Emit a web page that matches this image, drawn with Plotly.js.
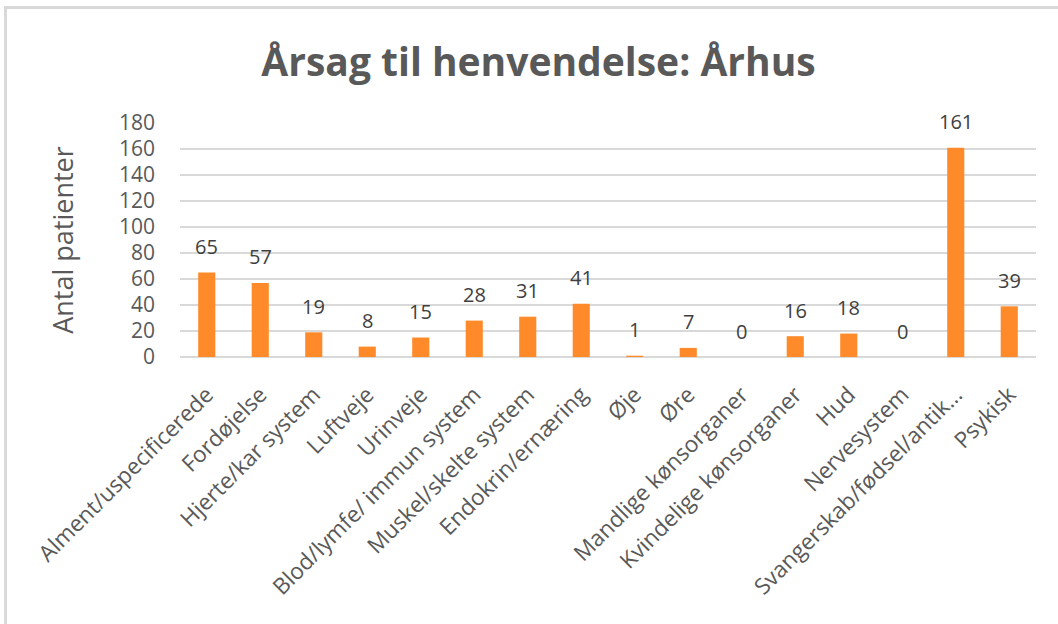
<!DOCTYPE html>
<html>
<head>
<meta charset="utf-8">
<script src="https://cdn.plot.ly/plotly-3.0.1.min.js"></script>
<style>
html,body{margin:0;padding:0;background:#fff;}
#wrap{position:relative;width:1058px;height:624px;overflow:hidden;}
#frame{position:absolute;left:4px;top:6px;width:1100px;height:700px;border-top:3px solid #d9d9d9;border-left:3px solid #d9d9d9;box-sizing:border-box;pointer-events:none;}
#chart{position:absolute;left:0;top:0;width:1058px;height:624px;}
</style>
</head>
<body>
<div id="wrap">
<div id="chart"></div>
<div id="frame"></div>
</div>
<script>
const categories = ["Alment/uspecificerede","Fordøjelse","Hjerte/kar system","Luftveje","Urinveje","Blod/lymfe/ immun system","Muskel/skelte system","Endokrin/ernæring","Øje","Øre","Mandlige kønsorganer","Kvindelige kønsorganer","Hud","Nervesystem","Svangerskab/fødsel/antik...","Psykisk"];
const patients = [65,57,19,8,15,28,31,41,1,7,0,16,18,0,161,39];
const yTicks = [0,20,40,60,80,100,120,140,160,180];

const trace = {
  type: 'bar',
  x: categories,
  y: patients,
  marker: {color: '#FF8A2A'},
  hoverinfo: 'x+y'
};

const annotations = categories.map((c, i) => ({
  x: c, y: patients[i], xref: 'x', yref: 'y',
  text: String(patients[i]), showarrow: false,
  yanchor: 'middle', yshift: 26,
  font: {family: 'Open Sans, sans-serif', size: 20, color: '#404040'}
}));

const layout = {
  width: 1058, height: 624,
  margin: {l: 180, r: 22, t: 123, b: 267},
  paper_bgcolor: 'rgba(0,0,0,0)',
  plot_bgcolor: 'rgba(0,0,0,0)',
  bargap: 0.68,
  showlegend: false,
  title: {
    text: '<b>Årsag til henvendelse: Århus</b>',
    x: 0.509, xanchor: 'center', y: 0.9, yanchor: 'middle',
    yref: 'container',
    font: {family: 'Open Sans, sans-serif', size: 39, color: '#595959'}
  },
  xaxis: {
    type: 'category',
    tickangle: -45,
    tickfont: {family: 'Open Sans, sans-serif', size: 22.5, color: '#595959'},
    showgrid: false, showline: false, zeroline: false,
    ticks: '', automargin: false, ticklabelstandoff: 19
  },
  yaxis: {
    range: [0, 180],
    tickvals: yTicks,
    ticktext: yTicks.map(String),
    tickfont: {family: 'Open Sans, sans-serif', size: 21, color: '#595959'},
    showgrid: true, gridcolor: '#D9D9D9', gridwidth: 1.5,
    zeroline: true, zerolinecolor: '#D9D9D9', zerolinewidth: 2,
    showline: false, ticks: '', ticklabelstandoff: 24,
    automargin: false,
    title: {text: 'Antal patienter', standoff: 37,
      font: {family: 'Open Sans, sans-serif', size: 27, color: '#595959'}}
  },
  annotations: annotations
};

Plotly.newPlot('chart', [trace], layout, {displayModeBar: false, staticPlot: true});
</script>
</body>
</html>
